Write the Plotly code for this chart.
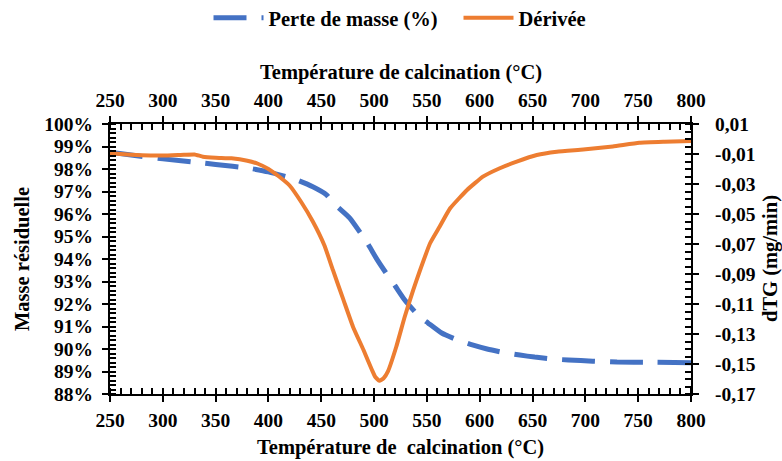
import plotly.graph_objects as go

# Mass loss curve (left axis, %)
temp_mass = [250, 270, 300, 335, 350, 382, 400, 427, 442, 455, 461, 467, 477, 494, 502, 511, 520, 529, 543,
             551, 564, 578, 593, 607, 622, 638, 652, 668, 684, 707, 730, 761, 800]
mass_pct = [98.75, 98.62, 98.45, 98.28, 98.20, 98.03, 97.87, 97.51, 97.21, 96.85, 96.50, 96.25, 95.82,
            94.68, 94.04, 93.40, 92.80, 92.18, 91.44, 91.16, 90.71, 90.42, 90.18, 90.00, 89.85, 89.73,
            89.64, 89.56, 89.51, 89.46, 89.42, 89.41, 89.39]

# Derivative curve (right axis, mg/min)
temp_dtg = [250, 260, 280, 300, 320, 330, 338, 350, 365, 380, 390, 400, 410, 420, 431, 442, 453, 461,
            471, 480, 490, 498, 501, 505, 509, 513, 521, 529, 537, 543, 553, 562, 572, 588, 603, 619, 635,
            654, 673, 698, 726, 751, 775, 800]
dtg = [-0.0095, -0.0100, -0.0108, -0.0110, -0.0105, -0.0103, -0.0118, -0.0125, -0.0129, -0.0145,
       -0.0165, -0.0200, -0.0250, -0.0310, -0.0420, -0.0550, -0.0710, -0.0873, -0.1073, -0.1251,
       -0.1407, -0.1540, -0.1585, -0.1612, -0.1595, -0.1551, -0.1385, -0.1185, -0.1007, -0.0885,
       -0.0695, -0.0585, -0.0462, -0.0340, -0.0251, -0.0195, -0.0151, -0.0107, -0.0085, -0.0070,
       -0.0050, -0.0025, -0.0018, -0.0013]

x_ticks = [250, 300, 350, 400, 450, 500, 550, 600, 650, 700, 750, 800]
left_ticks = list(range(88, 101))
left_labels = [f"{v}%" for v in left_ticks]
right_ticks = [-0.17, -0.15, -0.13, -0.11, -0.09, -0.07, -0.05, -0.03, -0.01, 0.01]
right_labels = ["-0,17", "-0,15", "-0,13", "-0,11", "-0,09", "-0,07", "-0,05", "-0,03", "-0,01", "0,01"]

FONT = "Liberation Serif"
tick_font = dict(family=FONT, size=19.5, color="black", weight="bold")
title_font = dict(family=FONT, size=20.5, color="black", weight="bold")

fig = go.Figure()
fig.add_trace(go.Scatter(x=temp_mass, y=mass_pct, mode="lines", name="Perte de masse (%)",
                         line=dict(color="#4472C4", width=5, dash="33px,15px", shape="spline", smoothing=0.5),
                         xaxis="x", yaxis="y"))
fig.add_trace(go.Scatter(x=temp_dtg, y=dtg, mode="lines", name="Dérivée",
                         line=dict(color="#ED7D31", width=4, shape="spline", smoothing=0.4),
                         xaxis="x2", yaxis="y2"))

xr = [250, 800]
yl = [88, 100]
yr = [-0.17, 0.01]

common = dict(showgrid=False, zeroline=False, tickcolor="black", tickwidth=2, automargin=False,
              showline=True, linecolor="black", linewidth=2, ticks="outside", ticklen=6, tickfont=tick_font)

fig.update_layout(
    width=782, height=461,
    margin=dict(l=110, r=91, t=124, b=67, autoexpand=False),
    paper_bgcolor="white", plot_bgcolor="white",
    showlegend=True,
    legend=dict(orientation="h", x=0.5 + 58 / 581, xref="paper", xanchor="center", y=1 - 18 / 461,
                yref="container", yanchor="middle", font=title_font, itemwidth=50, entrywidth=185,
                bgcolor="rgba(0,0,0,0)"),
    xaxis=dict(range=xr, tickvals=x_ticks, ticklabelstandoff=2, anchor="y",
               minor=dict(dtick=10, ticks="inside", ticklen=6, tickcolor="black", tickwidth=2),
               **common),
    xaxis2=dict(range=xr, tickvals=x_ticks, side="top", overlaying="x", anchor="y2", ticklabelstandoff=1,
                minor=dict(dtick=10, ticks="inside", ticklen=6, tickcolor="black", tickwidth=2),
                **common),
    yaxis=dict(range=yl, tickvals=left_ticks, ticktext=left_labels, ticklabelstandoff=5, anchor="x",
               minor=dict(dtick=0.2, ticks="inside", ticklen=6, tickcolor="black", tickwidth=2),
               **common),
    yaxis2=dict(range=yr, tickvals=right_ticks, ticktext=right_labels, side="right",
                overlaying="y", anchor="x2", ticklabelstandoff=12,
                minor=dict(dtick=0.005, tick0=0.01, ticks="inside", ticklen=6, tickcolor="black", tickwidth=2),
                **common),
    annotations=[
        dict(text="Température de calcination (°C)", xref="paper", yref="paper", x=0.5, y=1.0,
             yshift=52, xanchor="center", yanchor="middle", showarrow=False, font=title_font),
        dict(text="Température de  calcination (°C)", xref="paper", yref="paper", x=0.5, y=0,
             yshift=-53, xanchor="center", yanchor="middle", showarrow=False, font=title_font),
        dict(text="Masse résiduelle", xref="paper", yref="paper", x=0, y=0.5, xshift=-88,
             xanchor="center", yanchor="middle", textangle=-90, showarrow=False, font=title_font),
        dict(text="dTG (mg/min)", xref="paper", yref="paper", x=1, y=0.5, xshift=79,
             xanchor="center", yanchor="middle", textangle=-90, showarrow=False, font=title_font),
    ],
)

# remove the default 8px page margin so the figure fills the window exactly
fig.write_html("out.html", config={"displayModeBar": False},
               post_script="document.body.style.margin='0';document.body.style.overflow='hidden';")
